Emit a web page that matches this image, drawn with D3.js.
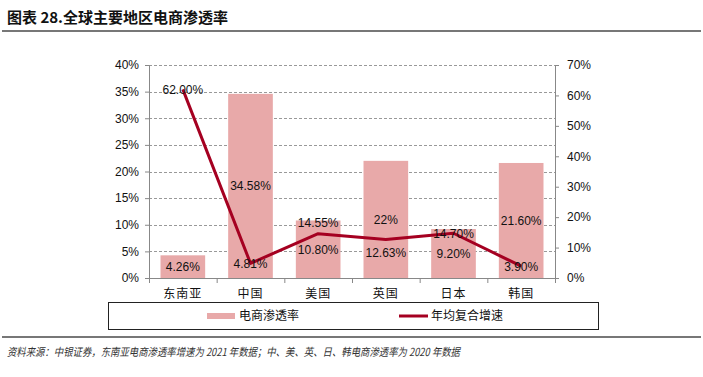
<!DOCTYPE html>
<html>
<head>
<meta charset="utf-8">
<script src="https://cdn.jsdelivr.net/npm/d3@7"></script>
<style>
  body { margin: 0; background: #fff; }
  svg { display: block; font-family: "Liberation Sans", Arial, sans-serif; }
  .cjk { font-family: "Noto Sans CJK SC", sans-serif; }
</style>
</head>
<body>
<svg width="703" height="377"></svg>
<script>
var categories = ['东南亚', '中国', '美国', '英国', '日本', '韩国'];
var penetration = [4.26, 34.58, 10.80, 22, 9.20, 21.60];
var growth = [62.00, 4.81, 14.55, 12.63, 14.70, 3.90];
var penLabels = ['4.26%', '34.58%', '10.80%', '22%', '9.20%', '21.60%'];
var growthLabels = ['62.00%', '4.81%', '14.55%', '12.63%', '14.70%', '3.90%'];
var leftTicks = [0, 5, 10, 15, 20, 25, 30, 35, 40];
var rightTicks = [0, 10, 20, 30, 40, 50, 60, 70];

var svg = d3.select('svg');
var plotLeft = 149, plotRight = 555, plotTop = 65, plotBottom = 278;

// title + rules
svg.append('text').attr('class', 'cjk').attr('x', 7).attr('y', 23)
  .attr('font-size', 15).attr('font-weight', 'bold').attr('fill', '#111')
  .text('图表 28.全球主要地区电商渗透率');
svg.append('line').attr('x1', 2).attr('x2', 701).attr('y1', 31).attr('y2', 31)
  .attr('stroke', '#777').attr('stroke-width', 2);
svg.append('line').attr('x1', 2).attr('x2', 701).attr('y1', 337).attr('y2', 337)
  .attr('stroke', '#777').attr('stroke-width', 2);
svg.append('text').attr('class', 'cjk').attr('x', 7).attr('y', 356)
  .attr('font-size', 11).attr('font-style', 'italic').attr('fill', '#333')
  .attr('textLength', 453).attr('lengthAdjust', 'spacingAndGlyphs')
  .text('资料来源：中银证券，东南亚电商渗透率增速为 2021 年数据；中、美、英、日、韩电商渗透率为 2020 年数据');

var x = d3.scaleBand().domain(categories).range([plotLeft, plotRight]).paddingInner(0.34).paddingOuter(0.17);
var yL = d3.scaleLinear().domain([0, 40]).range([plotBottom, plotTop]);
var yR = d3.scaleLinear().domain([0, 70]).range([plotBottom, plotTop]);

// gridlines
svg.append('g').selectAll('line').data(leftTicks.slice(1)).enter().append('line')
  .attr('x1', plotLeft).attr('x2', plotRight)
  .attr('y1', function(d){ return Math.round(yL(d)) + 0.5; })
  .attr('y2', function(d){ return Math.round(yL(d)) + 0.5; })
  .attr('stroke', '#999').attr('stroke-dasharray', '3,2');

// bars
svg.append('g').selectAll('rect').data(penetration).enter().append('rect')
  .attr('x', function(d, i){ return x(categories[i]); })
  .attr('width', x.bandwidth())
  .attr('y', function(d){ return yL(d); })
  .attr('height', function(d){ return plotBottom - yL(d); })
  .attr('fill', '#E8A9A9');

// axes
var axL = svg.append('g').attr('transform', 'translate(' + plotLeft + ',0)')
  .call(d3.axisLeft(yL).tickValues(leftTicks).tickSize(4).tickFormat(function(d){ return d + '%'; }));
var axR = svg.append('g').attr('transform', 'translate(' + plotRight + ',0)')
  .call(d3.axisRight(yR).tickValues(rightTicks).tickSize(4).tickFormat(function(d){ return d + '%'; }));
[axL, axR].forEach(function(ax){
  ax.select('.domain').attr('stroke', '#888');
  ax.selectAll('.tick line').attr('stroke', '#888');
  ax.selectAll('.tick text').attr('font-size', 12).attr('fill', '#111')
    .attr('font-family', '"Liberation Sans", Arial, sans-serif');
});
axL.selectAll('.tick text').attr('x', -10);
axR.selectAll('.tick text').attr('x', 12);

// bottom axis
var xb = d3.scalePoint().domain(d3.range(categories.length + 1)).range([plotLeft, plotRight]);
svg.append('line').attr('x1', plotLeft).attr('x2', plotRight).attr('y1', plotBottom + 0.5).attr('y2', plotBottom + 0.5)
  .attr('stroke', '#888');
svg.append('g').selectAll('line').data(xb.domain()).enter().append('line')
  .attr('x1', function(d){ return xb(d) + 0.5; }).attr('x2', function(d){ return xb(d) + 0.5; })
  .attr('y1', plotBottom).attr('y2', plotBottom + 5).attr('stroke', '#888');
svg.append('g').selectAll('text').data(categories).enter().append('text')
  .attr('class', 'cjk')
  .attr('x', function(d){ return x(d) + x.bandwidth() / 2; })
  .attr('y', 298).attr('text-anchor', 'middle').attr('font-size', 12).attr('fill', '#111')
  .attr('letter-spacing', 1)
  .text(function(d){ return d; });

// bar labels
svg.append('g').selectAll('text').data(penetration).enter().append('text')
  .attr('x', function(d, i){ return x(categories[i]) + x.bandwidth() / 2; })
  .attr('y', function(d){ return (yL(d) + plotBottom) / 2 + 4.5; })
  .attr('text-anchor', 'middle').attr('font-size', 12).attr('fill', '#111')
  .text(function(d, i){ return penLabels[i]; });

// line
var line = d3.line()
  .x(function(d, i){ return x(categories[i]) + x.bandwidth() / 2; })
  .y(function(d){ return yR(d); });
svg.append('path').datum(growth).attr('d', line)
  .attr('fill', 'none').attr('stroke', '#A50021').attr('stroke-width', 3)
  .attr('stroke-linejoin', 'round');

// line labels: centred on point, except 美国 above, 英国 below
var shift = [0, 0, -11, 13, 0, 0];
svg.append('g').selectAll('text').data(growth).enter().append('text')
  .attr('x', function(d, i){ return x(categories[i]) + x.bandwidth() / 2; })
  .attr('y', function(d, i){ return yR(d) + shift[i] + 4.5; })
  .attr('text-anchor', 'middle').attr('font-size', 12).attr('fill', '#111')
  .text(function(d, i){ return growthLabels[i]; });

// legend
svg.append('rect').attr('x', 108.5).attr('y', 302.5).attr('width', 490).attr('height', 27)
  .attr('fill', 'none').attr('stroke', '#222');
svg.append('rect').attr('x', 207).attr('y', 313).attr('width', 28).attr('height', 6).attr('fill', '#E8A9A9');
svg.append('text').attr('class', 'cjk').attr('x', 239).attr('y', 320).attr('font-size', 12).attr('fill', '#111')
  .text('电商渗透率');
svg.append('line').attr('x1', 399).attr('x2', 428).attr('y1', 316).attr('y2', 316)
  .attr('stroke', '#A50021').attr('stroke-width', 3);
svg.append('text').attr('class', 'cjk').attr('x', 431).attr('y', 320).attr('font-size', 12).attr('fill', '#111')
  .text('年均复合增速');
</script>
</body>
</html>
